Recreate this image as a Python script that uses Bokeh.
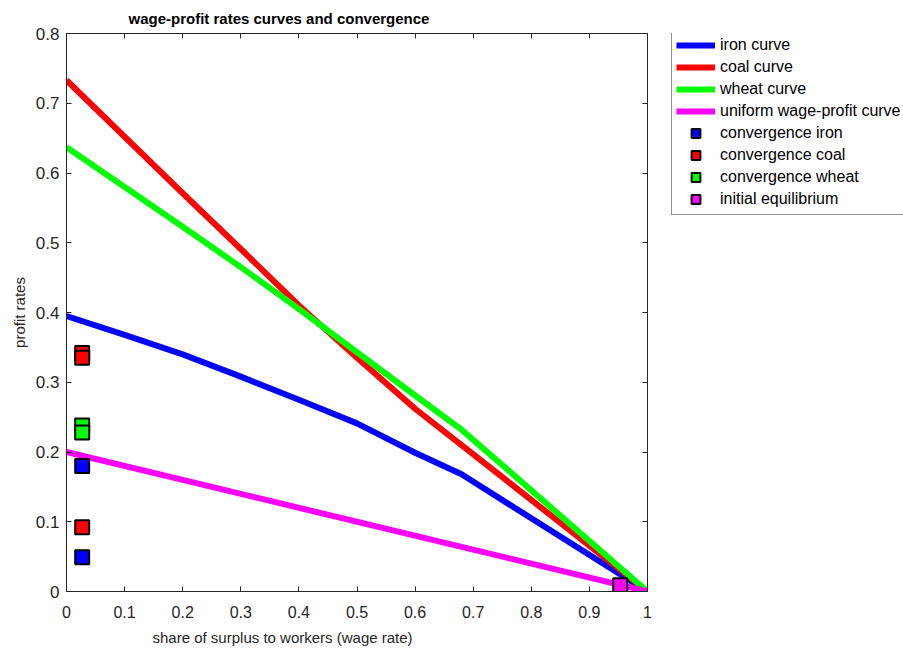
from bokeh.plotting import figure
from bokeh.layouts import row
from bokeh.models import (Range1d, LinearAxis, FixedTicker, CustomJSTickFormatter,
                          Legend, LegendItem, Title)
from bokeh.embed import file_html
from bokeh.resources import INLINE

# wage share (x) and the profit rate of each sector's curve
wage_share = [0.0, 0.1, 0.2, 0.3, 0.4, 0.5, 0.6, 0.68, 1.0]
iron_profit = [0.395, 0.368, 0.340, 0.308, 0.275, 0.241, 0.199, 0.168, 0.0]
coal_profit = [0.733, 0.652, 0.571, 0.491, 0.410, 0.335, 0.262, 0.210, 0.0]
wheat_profit = [0.637, 0.580, 0.523, 0.465, 0.405, 0.343, 0.281, 0.232, 0.0]
uniform_share = [0.0, 1.0]
uniform_profit = [0.2, 0.0]

# convergence points and the initial equilibrium
conv_iron_x = [0.027, 0.027]
conv_iron_y = [0.180, 0.049]
conv_coal_x = [0.027, 0.027, 0.027]
conv_coal_y = [0.342, 0.335, 0.092]
conv_wheat_x = [0.027, 0.027]
conv_wheat_y = [0.238, 0.228]
init_x = [0.953]
init_y = [0.009]

x_ticks = [0, 0.1, 0.2, 0.3, 0.4, 0.5, 0.6, 0.7, 0.8, 0.9, 1]
y_ticks = [0, 0.1, 0.2, 0.3, 0.4, 0.5, 0.6, 0.7, 0.8]

legend_labels = ["iron curve", "coal curve", "wheat curve", "uniform wage-profit curve",
                 "convergence iron", "convergence coal", "convergence wheat",
                 "initial equilibrium"]

FONT = "Liberation Sans"
AXC = "#262626"
BLUE, RED, GREEN, MAGENTA = "#0000FF", "#FF0000", "#00FF00", "#FF00FF"
LW = 6
MS = 14

curves = [(wage_share, iron_profit, BLUE), (wage_share, coal_profit, RED),
          (wage_share, wheat_profit, GREEN), (uniform_share, uniform_profit, MAGENTA)]
points = [(conv_iron_x, conv_iron_y, BLUE), (conv_coal_x, conv_coal_y, RED),
          (conv_wheat_x, conv_wheat_y, GREEN), (init_x, init_y, MAGENTA)]

p = figure(width=660, height=651, output_backend="svg", toolbar_location=None,
           x_range=Range1d(0, 1), y_range=Range1d(0, 0.8),
           min_border_left=66, min_border_right=13, min_border_top=33,
           min_border_bottom=59, background_fill_color="white",
           border_fill_color="white")
p.grid.visible = False
p.outline_line_color = AXC

p.title.text = "wage-profit rates curves and convergence"
p.title.text_font = FONT
p.title.text_font_size = "15px"
p.title.text_font_style = "bold"
p.title.text_color = "black"
p.title.align = "left"
p.title.offset = 62
p.title.standoff = 13

fmt = CustomJSTickFormatter(code="""
    if (Math.abs(tick) < 1e-9) return "0";
    if (Math.abs(tick - 1) < 1e-9) return "1";
    return tick.toFixed(1);
""")
blank = CustomJSTickFormatter(code="return '';")

for ax in (p.xaxis[0], p.yaxis[0]):
    ax.formatter = fmt
    ax.major_tick_in = 5
    ax.major_tick_out = 0
    ax.minor_tick_line_color = None
    ax.axis_line_color = AXC
    ax.major_tick_line_color = AXC
    ax.major_label_text_font = FONT
    ax.major_label_text_color = AXC
p.xaxis[0].ticker = FixedTicker(ticks=x_ticks)
p.yaxis[0].ticker = FixedTicker(ticks=y_ticks)
p.xaxis[0].major_label_text_font_size = "16px"
p.yaxis[0].major_label_text_font_size = "17px"
p.xaxis[0].major_label_standoff = 14
p.yaxis[0].major_label_standoff = 7

p.yaxis[0].axis_label = "profit rates"
p.yaxis[0].axis_label_text_font = FONT
p.yaxis[0].axis_label_text_font_size = "15px"
p.yaxis[0].axis_label_text_font_style = "normal"
p.yaxis[0].axis_label_text_color = AXC
p.yaxis[0].axis_label_standoff = 5

# x label as a left-aligned title below the axis
p.add_layout(Title(text="share of surplus to workers (wage rate)", align="left",
                   offset=86, standoff=12, text_font=FONT, text_font_size="15px",
                   text_font_style="normal", text_color=AXC), "below")

# box ticks on the top and right edges (no labels)
top = LinearAxis(ticker=FixedTicker(ticks=x_ticks), formatter=blank,
                 major_tick_in=5, major_tick_out=0, minor_tick_line_color=None,
                 major_label_text_font_size="2px", major_label_standoff=0,
                 axis_line_color=AXC, major_tick_line_color=AXC)
right = LinearAxis(ticker=FixedTicker(ticks=y_ticks), formatter=blank,
                   major_tick_in=5, major_tick_out=0, minor_tick_line_color=None,
                   major_label_text_font_size="2px", major_label_standoff=0,
                   axis_line_color=AXC, major_tick_line_color=AXC)
p.add_layout(top, "above")
p.add_layout(right, "right")

for xs, ys, c in curves:
    p.line(xs, ys, line_color=c, line_width=LW, line_join="round")
for xs, ys, c in points:
    p.scatter(xs, ys, marker="square", size=MS, fill_color=c, line_color="black",
              line_width=2)

# legend panel to the right of the axes; its own ranges keep the key glyphs' data out of view
lg = figure(width=243, height=651, output_backend="svg", toolbar_location=None,
            x_range=Range1d(-3, -2), y_range=Range1d(-3, -2),
            min_border_left=0, min_border_right=0, min_border_top=0,
            min_border_bottom=0, background_fill_color="white",
            border_fill_color="white", outline_line_color=None)
lg.axis.visible = False
lg.grid.visible = False

key_renderers = []
for xs, ys, c in curves:
    key_renderers.append(lg.line(xs, ys, line_color=c, line_width=LW))
for xs, ys, c in points:
    key_renderers.append(lg.scatter(xs, ys, marker="square", size=MS, fill_color=c,
                                    line_color="black", line_width=2))

# row layouts align frames, so the location is measured from the axes' bottom edge
legend = Legend(items=[LegendItem(label=t, renderers=[r])
                       for t, r in zip(legend_labels, key_renderers)],
                location=(11, 376), margin=0, padding=4, spacing=0, glyph_width=39,
                glyph_height=22, label_height=22, label_standoff=5,
                label_text_font=FONT, label_text_font_size="16px",
                label_text_color="black", border_line_color=AXC,
                border_line_width=1, background_fill_color="white")
lg.add_layout(legend, "center")

layout = row(p, lg, spacing=0)
open("out.html", "w").write(file_html(layout, INLINE))
